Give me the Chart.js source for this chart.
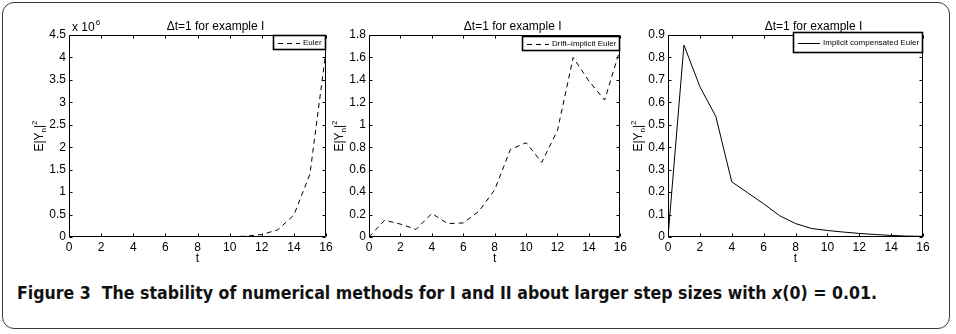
<!DOCTYPE html>
<html><head><meta charset="utf-8">
<script src="https://cdn.jsdelivr.net/npm/chart.js@4.4.1/dist/chart.umd.min.js"></script>
<style>
html,body{margin:0;padding:0;background:#fff;}
#wrap{position:relative;width:956px;height:334px;overflow:hidden;background:#fff;}
#frame{position:absolute;left:2px;top:2px;width:946px;height:325px;border:1.5px solid #3a3a3a;border-radius:12px;}
.pane{position:absolute;top:0;height:270px;}
.pane canvas{display:block;}
#caption{position:absolute;left:17px;top:283px;font-family:"Liberation Sans Narrow","DejaVu Sans Condensed","Liberation Sans",sans-serif;font-weight:bold;font-size:17px;white-space:pre;transform-origin:0 0;color:#111;}
</style></head><body>
<div id="wrap">
<div id="frame"></div>
<div class="pane" style="left:0;width:340px"><canvas id="c1" width="340" height="270"></canvas></div>
<div class="pane" style="left:330px;width:300px"><canvas id="c2" width="300" height="270"></canvas></div>
<div class="pane" style="left:630px;width:326px"><canvas id="c3" width="326" height="270"></canvas></div>
<div id="caption">Figure 3  The stability of numerical methods for I and II about larger step sizes with <i>x</i>(0) = 0.01.</div>
</div>
<script>
// ---- data ----
const tValues = [0,1,2,3,4,5,6,7,8,9,10,11,12,13,14,15,16];
const xTicks = [0,2,4,6,8,10,12,14,16];
// Euler, in units of 10^6
const eulerValues = [0,0,0,0,0,0,0.0001,0.0003,0.0008,0.002,0.006,0.018,0.055,0.16,0.49,1.4,4.15];
const driftImplicitValues = [0,0.15,0.115,0.068,0.21,0.12,0.125,0.23,0.42,0.78,0.84,0.665,0.95,1.6,1.39,1.22,1.68];
const implicitCompValues = [0,0.855,0.67,0.537,0.246,0.197,0.148,0.095,0.06,0.038,0.029,0.022,0.016,0.011,0.007,0.004,0.003];
const yTicksEuler = [0,0.5,1,1.5,2,2.5,3,3.5,4,4.5];
const yTicksDrift = [0,0.2,0.4,0.6,0.8,1,1.2,1.4,1.6,1.8];
const yTicksImplicit = [0,0.1,0.2,0.3,0.4,0.5,0.6,0.7,0.8,0.9];
const panelTitle = '\u0394t=1 for example I';
const xTitle = 't';

const FONT = '"Liberation Sans", Arial, Helvetica, sans-serif';

const matlabPlugin = {
  id: 'matlab',
  afterDraw(chart, args, o) {
    const ctx = chart.ctx, a = chart.chartArea, xs = chart.scales.x, ys = chart.scales.y;
    ctx.save();
    ctx.strokeStyle = '#000'; ctx.fillStyle = '#000'; ctx.lineWidth = 1;
    const L = Math.round(a.left) + 0.5, R = Math.round(a.right) - 0.5;
    const T = Math.round(a.top) + 0.5, B = Math.round(a.bottom) - 0.5;
    ctx.beginPath();
    ctx.rect(L, T, R - L, B - T);
    const tl = 3;
    xs.ticks.forEach(t => {
      const p = Math.round(xs.getPixelForValue(t.value)) + 0.5;
      ctx.moveTo(p, B); ctx.lineTo(p, B - tl);
      ctx.moveTo(p, T); ctx.lineTo(p, T + tl);
    });
    ys.ticks.forEach(t => {
      const p = Math.round(ys.getPixelForValue(t.value)) + 0.5;
      ctx.moveTo(L, p); ctx.lineTo(L + tl, p);
      ctx.moveTo(R, p); ctx.lineTo(R - tl, p);
    });
    ctx.stroke();

    // title
    ctx.font = '12px ' + FONT;
    ctx.textAlign = 'center'; ctx.textBaseline = 'alphabetic';
    ctx.fillText(o.title, (a.left + a.right) / 2 + 18, a.top - 5);
    // x title
    ctx.fillText(o.xTitle, (a.left + a.right) / 2, a.bottom + 25);

    // exponent
    if (o.exponent) {
      ctx.textAlign = 'left';
      ctx.font = '12px ' + FONT;
      const s = 'x 10';
      const x0 = a.left + 3, y0 = a.top - 4;
      ctx.fillText(s, x0, y0);
      const w = ctx.measureText(s).width;
      ctx.font = '8px ' + FONT;
      ctx.fillText(o.exponent, x0 + w + 1, y0 - 6);
    }

    // y title E|Y_n|^2 rotated
    ctx.save();
    ctx.translate(a.left - 26, (a.top + a.bottom) / 2);
    ctx.rotate(-Math.PI / 2);
    ctx.textAlign = 'left';
    const parts = [['E|Y', 12, 0], ['n', 8, 3], ['|', 12, 0], ['2', 8, -6]];
    let total = 0;
    parts.forEach(p => { ctx.font = p[1] + 'px ' + FONT; p.push(ctx.measureText(p[0]).width); total += p[3]; });
    let cx = -total / 2;
    parts.forEach(p => { ctx.font = p[1] + 'px ' + FONT; ctx.fillText(p[0], cx, p[2]); cx += p[3]; });
    ctx.restore();

    // legend
    const ds = chart.data.datasets[0];
    ctx.font = '8px ' + FONT;
    const tw = ctx.measureText(ds.label).width;
    const bw = Math.round(tw + 34), bh = o.legendH;
    const bx = Math.round(a.right) - bw, by = Math.round(a.top) + o.legendDy;
    ctx.fillStyle = '#fff';
    ctx.fillRect(bx, by, bw, bh);
    ctx.lineWidth = 1.6; ctx.strokeStyle = '#000';
    ctx.strokeRect(bx + 0.5, by + 0.5, bw - 1, bh - 1);
    ctx.lineWidth = 1;
    ctx.setLineDash(ds.borderDash || []);
    ctx.beginPath();
    const my = Math.round(by + bh / 2) + 0.5;
    ctx.moveTo(bx + 5, my); ctx.lineTo(bx + 27, my);
    ctx.stroke();
    ctx.setLineDash([]);
    ctx.fillStyle = '#000';
    ctx.textAlign = 'left'; ctx.textBaseline = 'middle';
    ctx.fillText(ds.label, bx + 30, by + bh / 2 + 0.5);
    ctx.restore();
  }
};

function makeChart(id, label, values, yTicks, yMax, dashed, geom, extra) {
  const H = 270;
  return new Chart(document.getElementById(id), {
    type: 'line',
    data: {
      datasets: [{
        label: label,
        data: tValues.map((t, i) => ({ x: t, y: values[i] })),
        borderColor: '#000',
        borderWidth: 1,
        borderDash: dashed ? [5, 4] : [],
        pointRadius: 0,
        tension: 0,
        fill: false
      }]
    },
    options: {
      responsive: false,
      animation: false,
      devicePixelRatio: 1,
      layout: { padding: { left: 0, top: geom.top, right: geom.right, bottom: 0 } },
      plugins: {
        legend: { display: false },
        title: { display: false },
        tooltip: { enabled: false },
        matlab: Object.assign({ title: panelTitle, xTitle: xTitle }, extra)
      },
      scales: {
        x: {
          type: 'linear', min: 0, max: 16,
          grid: { display: false, drawTicks: false },
          border: { display: false },
          afterBuildTicks: s => { s.ticks = xTicks.map(v => ({ value: v })); },
          afterFit: s => { s.height = H - geom.bottom; },
          ticks: { padding: 3, color: '#000', font: { family: FONT, size: 12 }, callback: v => String(v), maxRotation: 0, autoSkip: false }
        },
        y: {
          type: 'linear', min: 0, max: yMax,
          grid: { display: false, drawTicks: false },
          border: { display: false },
          afterBuildTicks: s => { s.ticks = yTicks.map(v => ({ value: v })); },
          afterFit: s => { s.width = geom.left; },
          ticks: { padding: 3, color: '#000', font: { family: FONT, size: 12 }, callback: v => String(v), autoSkip: false }
        }
      }
    },
    plugins: [matlabPlugin]
  });
}

makeChart('c1', 'Euler', eulerValues, yTicksEuler, 4.5, true,
  { left: 69, right: 14, top: 35, bottom: 237 }, { exponent: '6', legendH: 15, legendDy: 0 });
makeChart('c2', 'Drift\u2013implicit Euler', driftImplicitValues, yTicksDrift, 1.8, true,
  { left: 39, right: 6, top: 35, bottom: 237 }, { legendH: 15, legendDy: 1 });
makeChart('c3', 'Implicit compensated Euler', implicitCompValues, yTicksImplicit, 0.9, false,
  { left: 38, right: 33, top: 35, bottom: 237 }, { legendH: 21, legendDy: -3 });

// fit caption width to the reference span
const cap = document.getElementById('caption');
const w = cap.getBoundingClientRect().width;
cap.style.transform = 'scaleX(' + (860 / w) + ')';
</script>
</body></html>
